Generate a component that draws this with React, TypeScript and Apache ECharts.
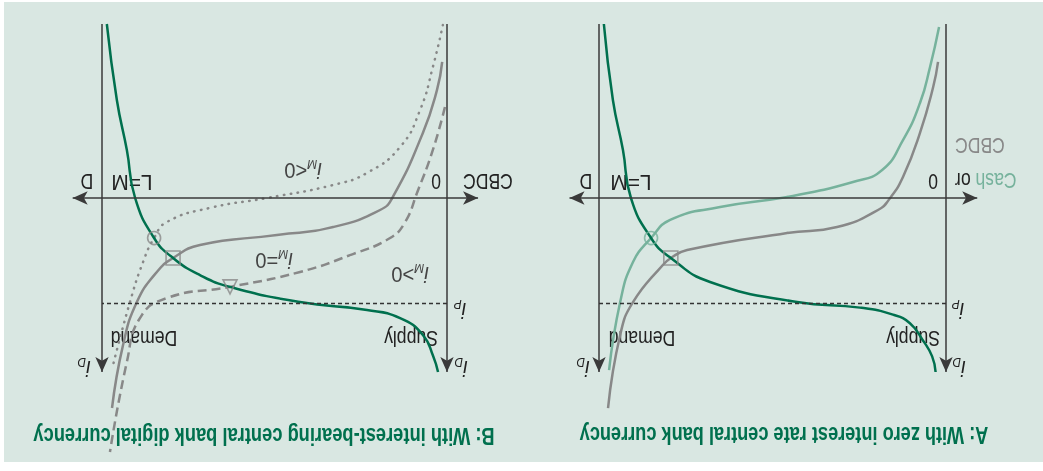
import React, { useEffect, useRef } from "react";
import * as echarts from "echarts";

// ---------- data (x: quantity 0..100 between the two vertical axes, y: interest rate, 0 = horizontal axis) ----------
// Panel A
const supplyA: number[][] = [[3.0, 10.0], [4.0, 9.1], [6.6, 8.2], [10.4, 7.2], [15.3, 6.7], [24.8, 6.3], [42.9, 5.98], [68.0, 4.83], [79.3, 3.45], [85.0, 2.3], [90.8, 0], [93.1, -2.76], [96.0, -5.63], [98.6, -10.0]];
const cbdcA: number[][] = [[2.3, -7.82], [3.7, -6.38], [7.5, -3.74], [12.4, -1.21], [16.1, 0], [19.6, 0.69], [31.4, 1.67], [45.8, 2.01], [74.6, 2.99], [79.3, 3.45], [81.6, 3.85], [90.2, 5.98], [93.9, 7.87], [97.4, 12.07]];
const cashA: number[][] = [[2.0, -9.83], [4.6, -7.53], [7.5, -5.46], [12.4, -3.33], [18.4, -1.61], [26.8, -0.92], [45.8, -0.06], [65.1, 0.52], [79.5, 1.26], [85.0, 2.3], [90.2, 3.68], [93.9, 5.98], [97.1, 9.89]];
const circleA: number[][] = [[85.0, 2.3]];
const squareA: number[][] = [[79.3, 3.45]];

// Panel B
const supplyB: number[][] = [[2.6, 10.0], [4.0, 9.1], [7.0, 7.87], [13.6, 6.9], [23.2, 6.44], [42.6, 5.98], [62.9, 5.11], [71.6, 4.43], [79.4, 3.45], [84.9, 2.3], [90.4, 0], [92.8, -2.76], [95.7, -5.63], [98.6, -10.0]];
const zeroB: number[][] = [[1.4, -7.82], [2.9, -6.21], [7.0, -3.74], [15.7, -0.06], [19.4, 0.69], [33.0, 1.67], [49.3, 2.13], [71.6, 2.7], [79.4, 3.45], [84.1, 4.25], [89.9, 5.98], [93.9, 8.45], [97.1, 12.07]];
const negB: number[][] = [[1.2, -9.94], [4.1, -7.53], [7.8, -5.06], [13.6, -2.93], [23.2, -1.44], [33.0, -0.75], [52.2, 0], [68.7, 0.57], [81.2, 1.38], [84.9, 2.3], [88.1, 3.68], [91.9, 5.98], [96.8, 9.6]];
const posB: number[][] = [[0.6, -5.23], [4.1, -2.76], [8.7, -0.29], [12.2, 1.4], [16.5, 2.3], [28.1, 3.28], [42.6, 4.25], [62.9, 5.11], [81.2, 5.75], [89.0, 6.9], [92.8, 9.43], [97.7, 14.6]];
const circleB: number[][] = [[84.9, 2.3]];
const squareB: number[][] = [[79.4, 3.45]];
const triangleB: number[][] = [[62.9, 5.11]];

// axes
const axisLeft = 0;
const axisRight = 100;
const axisBottom = -10;
const axisTop = 10;
const hArrowFrom = -9;
const hArrowTo = 108.5;
const policyRate = 6.1;

const titleA = "A: With zero interest rate central bank currency";
const titleB = "B: With interest-bearing central bank digital currency";

const GREEN = "#00704e";
const LGREEN = "#76b29c";
const GREY = "#888888";
const AXIS = "#3a3a3a";
const FONT = "'Liberation Sans', Arial, sans-serif";

function curve(data: number[][], idx: number, color: string, type: any = "solid", cap: any = "butt") {
  return {
    type: "line",
    xAxisIndex: idx,
    yAxisIndex: idx,
    data,
    smooth: 0.5,
    showSymbol: false,
    symbol: "none",
    clip: false,
    silent: true,
    z: 3,
    lineStyle: { color, width: 2.5, type, cap },
  };
}

function marker(data: number[][], idx: number, symbol: string, color: string, size: number) {
  return {
    type: "scatter",
    xAxisIndex: idx,
    yAxisIndex: idx,
    data,
    symbol,
    symbolSize: size,
    silent: true,
    clip: false,
    z: 4,
    itemStyle: { color: "rgba(0,0,0,0)", borderColor: color, borderWidth: 1.6 },
  };
}

function axes(idx: number) {
  return {
    type: "line",
    xAxisIndex: idx,
    yAxisIndex: idx,
    data: [],
    silent: true,
    z: 2,
    markLine: {
      silent: true,
      animation: false,
      symbolSize: [10, 15],
      label: { show: false },
      emphasis: { disabled: true },
      lineStyle: { color: AXIS, width: 1.5, type: "solid" },
      data: [
        [{ coord: [hArrowFrom, 0], symbol: "arrow" }, { coord: [hArrowTo, 0], symbol: "arrow" }],
        [{ coord: [axisLeft, axisBottom], symbol: "none" }, { coord: [axisLeft, axisTop], symbol: "arrow" }],
        [{ coord: [axisRight, axisBottom], symbol: "none" }, { coord: [axisRight, axisTop], symbol: "arrow" }],
      ],
    },
  };
}

function dashed(idx: number) {
  return {
    type: "line",
    xAxisIndex: idx,
    yAxisIndex: idx,
    data: [],
    silent: true,
    z: 2,
    markLine: {
      silent: true,
      animation: false,
      symbol: ["none", "none"],
      label: { show: false },
      emphasis: { disabled: true },
      lineStyle: { color: "#333333", width: 1.3, type: [4, 3] },
      data: [[{ coord: [axisLeft, policyRate] }, { coord: [axisRight, policyRate] }]],
    },
  };
}

const subRich = (fill: string) => ({
  i: { fontFamily: FONT, fontSize: 22, fontStyle: "italic", lineHeight: 26, fill },
  s: { fontFamily: FONT, fontSize: 13, fontStyle: "italic", lineHeight: 13, verticalAlign: "bottom", fill },
  n: { fontFamily: FONT, fontSize: 22, lineHeight: 26, fill },
});

function T(x: number, y: number, text: string, o: any = {}) {
  return {
    type: "text",
    x,
    y,
    z: 1,
    silent: true,
    scaleX: o.sx ?? 0.8,
    style: {
      text,
      fontFamily: FONT,
      fontSize: o.fs ?? 22,
      fontWeight: o.fw ?? "normal",
      fill: o.fill ?? "#222222",
      align: o.align ?? "center",
      verticalAlign: "middle",
      rich: o.rich,
    },
  };
}

export default function App() {
  const ref = useRef<HTMLDivElement>(null);
  useEffect(() => {
    if (!ref.current) return;
    const chart = echarts.init(ref.current, null, { renderer: "svg" });
    const option: any = {
      animation: false,
      backgroundColor: "#ffffff",
      grid: [
        { left: 62.3, top: 12, width: 416.4, height: 452.4 },
        { left: 561.5, top: 12, width: 414, height: 452.4 },
      ],
      xAxis: [
        { type: "value", gridIndex: 0, min: -10, max: 110, show: false },
        { type: "value", gridIndex: 1, min: -10, max: 110, show: false },
      ],
      yAxis: [
        { type: "value", gridIndex: 0, min: -11, max: 15, show: false },
        { type: "value", gridIndex: 1, min: -11, max: 15, show: false },
      ],
      graphic: [
        { type: "rect", z: -10, silent: true, shape: { x: 0, y: 9, width: 1039, height: 460 }, style: { fill: "#d9e7e2" } },
        // Panel A texts
        T(259, 36, titleA, { fw: "bold", fs: 23, sx: 0.79, fill: GREEN }),
        T(88, 290, "{c|Cash} {o|or}", {
          align: "right",
          rich: {
            c: { fontFamily: FONT, fontSize: 22, fill: LGREEN },
            o: { fontFamily: FONT, fontSize: 22, fill: "#222222" },
          },
        }),
        T(88, 325, "CBDC", { align: "right", fill: GREY }),
        T(110, 289, "0"),
        T(412, 289, "L=M", { sx: 0.95 }),
        T(457, 289, "D"),
        T(130, 132, "Supply"),
        T(401, 132, "Demand"),
        T(85, 160, "{i|i}{s|P}", { sx: 0.9, rich: subRich("#222222") }),
        T(84, 102, "{i|i}{s|D}", { sx: 0.9, rich: subRich("#222222") }),
        T(460, 102, "{i|i}{s|D}", { sx: 0.9, rich: subRich("#222222") }),
        // Panel B texts
        T(779, 35, titleB, { fw: "bold", fs: 23, sx: 0.796, fill: GREEN }),
        T(580, 289, "CBDC", { align: "right" }),
        T(607, 289, "0"),
        T(911, 289, "L=M", { sx: 0.95 }),
        T(956, 289, "D"),
        T(632, 132, "Supply"),
        T(899, 132, "Demand"),
        T(583, 160, "{i|i}{s|P}", { sx: 0.9, rich: subRich("#222222") }),
        T(582, 102, "{i|i}{s|D}", { sx: 0.9, rich: subRich("#222222") }),
        T(959, 102, "{i|i}{s|D}", { sx: 0.9, rich: subRich("#222222") }),
        T(740, 300, "{i|i}{s|M}{n|<0}", { sx: 0.92, rich: subRich("#444444") }),
        T(769, 210, "{i|i}{s|M}{n|=0}", { sx: 0.92, rich: subRich("#444444") }),
        T(633, 196, "{i|i}{s|M}{n|>0}", { sx: 0.92, rich: subRich("#444444") }),
      ],
      series: [
        axes(0),
        dashed(0),
        curve(cashA, 0, LGREEN),
        curve(cbdcA, 0, GREY),
        curve(supplyA, 0, GREEN),
        marker(circleA, 0, "circle", LGREEN, 13),
        marker(squareA, 0, "rect", GREY, 14),
        axes(1),
        dashed(1),
        curve(negB, 1, GREY, [0.5, 6.5], "round"),
        curve(posB, 1, GREY, [9, 5]),
        curve(zeroB, 1, GREY),
        curve(supplyB, 1, GREEN),
        marker(circleB, 1, "circle", GREY, 13),
        marker(squareB, 1, "rect", GREY, 14),
        marker(triangleB, 1, "triangle", GREY, 14),
      ],
    };
    chart.setOption(option);
    return () => chart.dispose();
  }, []);
  return (
    <div
      style={{
        position: "fixed",
        left: 0,
        top: 0,
        width: 1043,
        height: 471,
        transform: "rotate(180deg)",
        background: "#ffffff",
      }}
    >
      <div ref={ref} style={{ width: 1043, height: 471 }} />
    </div>
  );
}
